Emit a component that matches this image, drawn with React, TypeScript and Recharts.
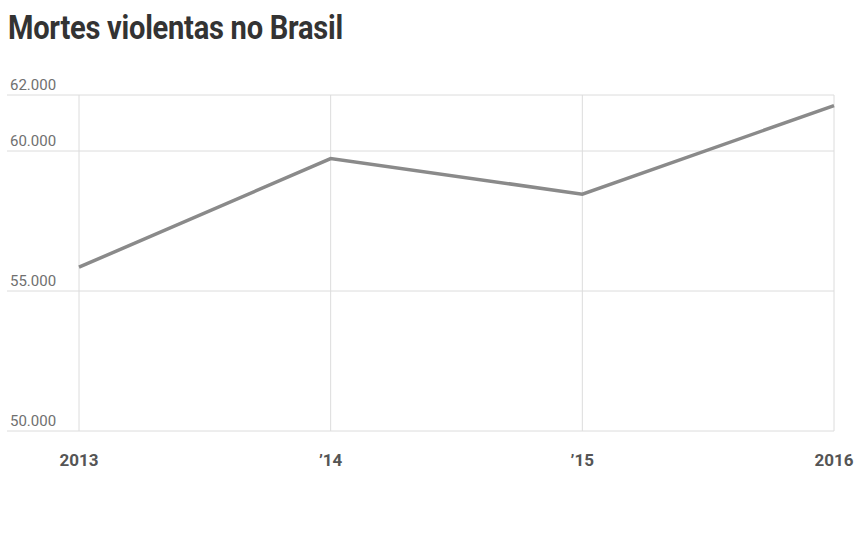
import React from 'react';
import { LineChart, Line, XAxis, YAxis, CartesianGrid } from 'recharts';

const years = ['2013', '2014', '2015', '2016'];
const yearLabels = ['2013', '’14', '’15', '2016'];
const deaths = [55850, 59730, 58460, 61620];
const yTicks = [50000, 55000, 60000, 62000];

const data = years.map((year, i) => ({ year, deaths: deaths[i] }));

const formatBR = (v: number) => {
  const s = String(Math.round(v));
  return s.replace(/\B(?=(\d{3})+(?!\d))/g, '.');
};

const YTick = (props: any) => {
  const { y, payload } = props;
  return (
    <text x={10} y={y - 5} fill="#707070" fontSize={15} textAnchor="start" fontFamily="Roboto, 'Liberation Sans', sans-serif">
      {formatBR(payload.value)}
    </text>
  );
};

const XTick = (props: any) => {
  const { x, y, index } = props;
  return (
    <text
      x={x}
      y={y + 31}
      textAnchor="middle"
      dominantBaseline="middle"
      fill="#555"
      fontSize={17}
      fontWeight="bold"
      fontFamily="Roboto, 'Liberation Sans', sans-serif"
    >
      {yearLabels[index]}
    </text>
  );
};

export default function App() {
  return (
    <div style={{ position: 'absolute', left: 0, top: 0, width: 857, height: 536, background: '#fff' }}>
      <div
        style={{
          position: 'absolute',
          left: 8,
          top: 7,
          fontFamily: "Roboto, sans-serif",
          fontWeight: 'bold',
          fontSize: 34,
          color: '#333',
          whiteSpace: 'nowrap',
          transform: 'scaleX(0.855)',
          transformOrigin: 'left top',
          letterSpacing: -0.3,
        }}
      >
        Mortes violentas no Brasil
      </div>
      <LineChart
        width={857}
        height={536}
        data={data}
        margin={{ top: 95, left: 6, right: 23, bottom: 65 }}
      >
        <CartesianGrid stroke="#dcdcdc" strokeWidth={1} syncWithTicks />
        <XAxis
          dataKey="year"
          height={40}
          padding={{ left: 72, right: 0 }}
          tickLine={false}
          axisLine={false}
          tickSize={0}
          tickMargin={0}
          tick={<XTick />}
          interval={0}
        />
        <YAxis
          width={1}
          domain={[50000, 62000]}
          ticks={yTicks}
          tickLine={false}
          axisLine={false}
          tick={<YTick />}
          interval={0}
        />
        <Line
          type="linear"
          dataKey="deaths"
          stroke="#8a8a8a"
          strokeWidth={3.5}
          dot={false}
          isAnimationActive={false}
        />
      </LineChart>
    </div>
  );
}
